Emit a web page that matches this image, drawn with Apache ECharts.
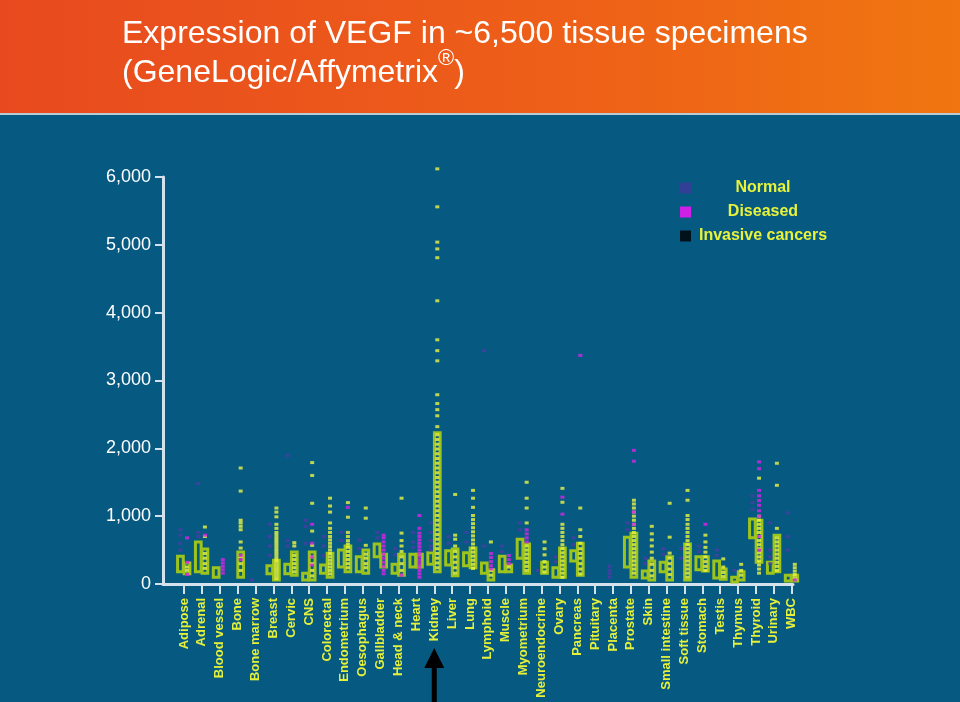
<!DOCTYPE html>
<html>
<head>
<meta charset="utf-8">
<script src="https://cdn.jsdelivr.net/npm/echarts@6/dist/echarts.min.js"></script>
<style>html,body{margin:0;padding:0;background:#065A82;}#c{width:960px;height:702px;}</style>
</head>
<body>
<div id="c"></div>
<script>
const categories = ['Adipose','Adrenal','Blood vessel','Bone','Bone marrow','Breast','Cervic','CNS','Colorectal','Endometrium','Oesophagus','Gallbladder','Head & neck','Heart','Kidney','Liver','Lung','Lymphoid','Muscle','Myometrium','Neuroendocrine','Ovary','Pancreas','Pituitary','Placenta','Prostate','Skin','Small intestine','Soft tissue','Stomach','Testis','Thymus','Thyroid','Urinary','WBC'];

const yTicks = [0, 1000, 2000, 3000, 4000, 5000, 6000];

// interquartile boxes [low, high]; null = no box
const normalBoxes = [[180,410],[180,620],[100,240],null,null,[150,270],[150,290],[60,160],[160,280],[250,500],[180,400],[400,590],[160,290],[250,440],[290,460],[280,490],[270,460],[160,310],[180,410],[380,660],null,[100,240],[340,490],null,null,[250,690],[90,190],[180,320],null,[210,400],[90,340],[30,100],[680,960],[160,320],[45,130]];
const cancerBoxes = [[150,310],[160,515],null,[100,470],null,[60,350],[130,470],[60,470],[100,455],[180,560],[160,500],[250,440],[130,440],[250,440],[180,2230],[120,515],[240,530],[60,210],[180,280],[160,590],[160,320],[100,530],[130,600],null,null,[100,750],[60,340],[60,400],[60,590],[190,400],[70,220],[60,180],[320,940],[180,720],[45,130]];

const normalPoints = [
  [800,720,600,500],[1480,760,700],[],[],[60],[880,700,560,420],[1890,640,560],[940,850,600],[700,560,420],[760,640],
  [650,520],[760,680],[520,430],[760,620,540],[900,760,640,560,500],[700,600],[760,620],[3440,560],[560,480],[900,800],
  [200],[400,330],[680,580],[],[260,200,150,100],[900,800],[380,300],[520,440],[520,380],[560,480],
  [500,420],[200],[1300,1200,1100],[900,500,400,300],[1050,700,500]
];
const diseasedPoints = [
  [680,320,140],[720],[360,310,260,210,160],[420,360],[],[],[],[880,600,400,280],[],[1130],
  [],[720,680,620,560,500,440,380,320,260,200,150],[130],[1010,820,750,700,650,600,550,500,450,400,350,300,250,200,150,100],[],[],[],[450,390,330,270,220],[420,360,300],[800,740,680,620],
  [],[1280,1030],[3370],[],[],[1970,1810,1060,880],[],[],[],[880],
  [],[],[1800,1700,1380,1300,1230,1160,1080,1000,700,500],[],[60]
];
const cancerPoints = [
  [250,200],[840,700,450,380,300,230],[],[1710,1370,940,900,850,800,620,530,400,300,200],[],
  [1120,1060,990,880,820,760,720,680,640,600,560,520,480,440,400,360,320,280,240,200,160,120,80],
  [610,560,420,360,300,240,180],[1790,1600,1190,780,570,400,300,200,120],
  [1265,1150,1060,900,820,760,700,650,600,550,500,450,400,350,300,250,200,150],
  [1200,985,760,700,640,590,540,480,420,360,300,240],
  [1120,970,570,440,380,300,240],[],[1265,750,640,560,480,400,300,200],[],
  [6120,5560,5040,4940,4810,4175,3600,3440,3290,2790,2660,2570,2480,2320,2200,2130,2060,1990,1920,1850,1780,1710,1640,1570,1500,1430,1360,1290,1220,1150,1080,1010,940,870,800,730,660,590,520,450,380,310,240],
  [1320,720,660,560,480,400,320,240,160],
  [1380,1265,1130,1010,950,890,830,770,710,650,590,530,470,410,350,290,230],
  [620,200,130],[250],[1500,1265,1120,900,560,500,440,380,320,260,200],
  [620,520,430,330,250,180],
  [1410,1205,880,820,760,700,640,580,520,460,400,340,280,220,160,100],
  [1120,800,700,600,520,450,380,300,220,150],[],[],
  [1235,1180,1120,1060,1000,940,880,820,760,700,640,580,520,460,400,340,280,220,160],
  [850,740,650,560,470,380,290,200,120],[1190,690,455,380,300,220,140],
  [1380,1235,1010,950,880,820,760,700,640,580,520,460,400,340,280,220,160,100],
  [720,620,540,470,400,330,260,200],[370,250,170,110],[290,200,130],
  [1560,1000,940,880,820,760,700,640,580,520,460,400,340,280,220,160],
  [1780,1455,820,680,620,560,500,440,380,320,260,200],[290,240,190,140,90]
];

const LEFT = -0.2, RIGHT = 0.17, HALF = 0.16;

function boxData(boxes, off) {
  const out = [];
  boxes.forEach((b, i) => { if (b) out.push([i + off, b[0], b[1]]); });
  return out;
}
function pointData(lists, off) {
  const out = [];
  lists.forEach((l, i) => l.forEach(v => out.push([i + off, v])));
  return out;
}
function renderBox(params, api) {
  const x = api.value(0);
  const lo = api.coord([x - HALF, api.value(1)]);
  const hi = api.coord([x + HALF, api.value(2)]);
  return {
    type: 'rect',
    shape: { x: lo[0], y: hi[1], width: hi[0] - lo[0], height: lo[1] - hi[1] },
    style: { fill: 'rgba(0,0,0,0)', stroke: '#9CC41C', lineWidth: 3 }
  };
}

const chart = echarts.init(document.getElementById('c'), null, { renderer: 'canvas' });
const font = 'Liberation Sans, Arial, sans-serif';
const idx = categories.map((c, i) => i);

chart.setOption({
  backgroundColor: '#065A82',
  animation: false,
  title: {
    left: 122, top: 20, z: 10, padding: 0,
    text: '{a|Expression of VEGF in ~6,500 tissue specimens}\n{b|(GeneLogic/Affymetrix}{sup|®}{b|)}',
    textStyle: {
      color: '#ffffff', fontSize: 32, fontWeight: 'normal', fontFamily: font,
      rich: {
        a: { color: '#ffffff', fontSize: 32, fontFamily: font, lineHeight: 28 },
        b: { color: '#ffffff', fontSize: 32, fontFamily: font, lineHeight: 51 },
        sup: { color: '#ffffff', fontSize: 22, fontFamily: font, verticalAlign: 'top', lineHeight: 22 }
      }
    }
  },
  graphic: [
    { id: 'hdr', type: 'rect', z: 0, shape: { x: 0, y: 0, width: 960, height: 113 },
      style: { fill: new echarts.graphic.LinearGradient(0, 0, 1, 0, [{ offset: 0, color: '#E84A1F' }, { offset: 0.6, color: '#EE6018' }, { offset: 1, color: '#F07610' }]) } },
    { id: 'hdrline', type: 'rect', z: 0, shape: { x: 0, y: 113, width: 960, height: 2 }, style: { fill: '#B9CBD3' } }
  ],
  legend: {
    orient: 'vertical', left: 675, top: 175, itemWidth: 11, itemHeight: 11, itemGap: 8,
    icon: 'rect',
    formatter: n => '{t|' + n + '}',
    textStyle: { rich: { t: { width: 134, align: 'center', color: '#E8F23A', fontSize: 16, fontWeight: 'bold', fontFamily: font, lineHeight: 17 } } },
    data: [
      { name: 'Normal', itemStyle: { color: '#3C3898' } },
      { name: 'Diseased', itemStyle: { color: '#FF10FF' } },
      { name: 'Invasive cancers', itemStyle: { color: '#000000' } }
    ]
  },
  grid: { left: 163, right: 167, top: 177, bottom: 118 },
  xAxis: {
    type: 'value', min: -1.175, max: 34.07,
    splitLine: { show: false },
    axisLine: { show: true, onZero: false, lineStyle: { color: '#D4E2EE', width: 3 } },
    axisTick: { show: true, customValues: idx, length: 10, lineStyle: { color: '#D4E2EE', width: 2 } },
    axisLabel: {
      customValues: idx, rotate: 90, margin: 14, color: '#E4F03A', fontSize: 13, fontWeight: 'bold', fontFamily: font,
      formatter: v => categories[Math.round(v)] || ''
    }
  },
  yAxis: {
    type: 'value', min: 0, max: 6000, interval: 1000,
    splitLine: { show: false },
    axisLine: { show: true, onZero: false, lineStyle: { color: '#D4E2EE', width: 3 } },
    axisTick: { show: true, length: 8, lineStyle: { color: '#D4E2EE', width: 2 } },
    axisLabel: {
      margin: 12, color: '#ffffff', fontSize: 18, fontFamily: font,
      formatter: v => String(v).replace(/\B(?=(\d{3})+(?!\d))/g, ',')
    }
  },
  series: [
    { type: 'custom', name: 'nbox', renderItem: renderBox, data: boxData(normalBoxes, LEFT), encode: { x: 0, y: [1, 2] }, z: 2, clip: false },
    { type: 'custom', name: 'cbox', renderItem: renderBox, data: boxData(cancerBoxes, RIGHT), encode: { x: 0, y: [1, 2] }, z: 2, clip: false },
    { type: 'scatter', name: 'Normal', data: pointData(normalPoints, LEFT), symbol: 'rect', symbolSize: [4, 3], itemStyle: { color: '#4A3CA6' }, z: 3, clip: false },
    { type: 'scatter', name: 'Invasive cancers', data: pointData(cancerPoints, RIGHT), symbol: 'rect', symbolSize: [4, 3], itemStyle: { color: '#ECF442' }, z: 4, clip: false },
    { type: 'scatter', name: 'Diseased', data: pointData(diseasedPoints, RIGHT), symbol: 'rect', symbolSize: [4, 3], itemStyle: { color: '#D822E8' }, z: 5, clip: false }
  ]
});

const ax = chart.convertToPixel({ xAxisIndex: 0 }, categories.indexOf('Kidney'));
chart.setOption({
  graphic: [
    { id: 'arrow', type: 'polygon', z: 10,
      shape: { points: [[ax - 2.5, 702], [ax - 2.5, 668], [ax - 10, 668], [ax, 648], [ax + 10, 668], [ax + 2.5, 668], [ax + 2.5, 702]] },
      style: { fill: '#000000' } }
  ]
});
</script>
</body>
</html>
